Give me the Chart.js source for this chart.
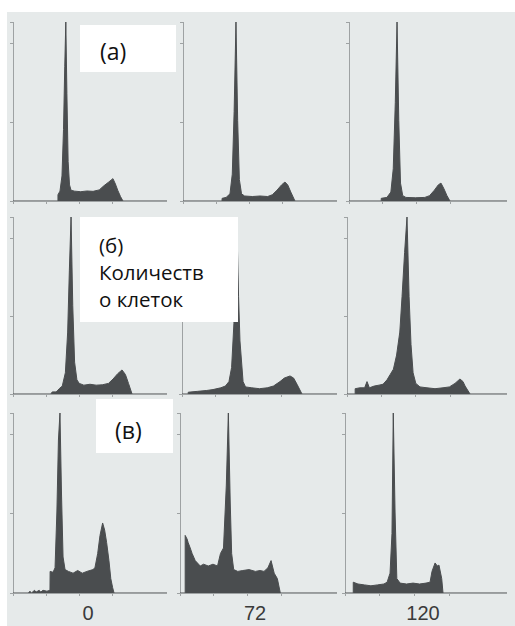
<!DOCTYPE html>
<html>
<head>
<meta charset="utf-8">
<script src="https://cdn.jsdelivr.net/npm/chart.js@4"></script>
<style>
  html, body { margin: 0; padding: 0; background: #fff; }
  body { width: 515px; height: 626px; position: relative; overflow: hidden; }
  #sheet { position: absolute; left: 7px; top: 12px; right: 0; bottom: 0; background: #e6eaea; }
  .panel { position: absolute; }
  .tag { position: absolute; background: #fff; color: #111; font-family: "Open Sans", sans-serif; z-index: 5; }
  .tag span { position: absolute; white-space: nowrap; line-height: 27px; }
  .time { position: absolute; width: 60px; margin-left: -30px; text-align: center; font-family: "Liberation Sans", Arial, sans-serif; font-size: 20px; color: #3a3a3a; }
</style>
</head>
<body>
<div id="sheet"></div>
<script>
// hours after treatment (column labels under the bottom row)
const timeLabels = ['0', '72', '120'];
// row tags
const rowTags = [['(а)'], ['(б)', 'Количеств', 'о клеток'], ['(в)']];

// DNA content channel (% of axis) and cell count (% of axis) for each panel
// row (а)
const a0Channel = [0, 28.6, 29.2, 30.5, 31.8, 32.8, 33.6, 34.3, 35.0, 35.8, 36.7, 37.7, 40, 44, 48, 52, 56, 59, 62, 64.9, 66.5, 68, 69.8, 71.4, 100];
const a0Count   = [0, 0, 3.5, 5.5, 14, 40, 75, 100, 60, 22, 9, 6, 5.5, 5.2, 5.6, 5.4, 6.2, 8.5, 10.5, 12.5, 9.5, 6, 2.5, 0, 0];
const a72Channel = [0, 25.3, 25.4, 28, 30.5, 32, 33.2, 34.4, 35.5, 36.6, 38, 40, 45, 50, 55, 58, 61, 64, 66.2, 68, 70, 72.7, 100];
const a72Count   = [0, 0, 1.5, 2, 4, 15, 50, 100, 45, 12, 4, 2.8, 2.5, 2.8, 2.5, 3.5, 6, 9, 10.6, 9, 5, 0, 0];
const a120Channel = [0, 20.3, 20.4, 24, 26.5, 28, 29.3, 30.4, 31.5, 32.6, 34, 36, 42, 48, 51, 54, 56.5, 58.2, 60, 62, 63.9, 100];
const a120Count   = [0, 0, 1.5, 2, 5, 18, 55, 100, 45, 10, 3, 2, 1.8, 2, 3, 6, 9, 10, 7, 3, 0, 0];
// row (б)
const b0Channel = [0, 24.5, 25.5, 27.5, 28.5, 30, 32, 34, 35.5, 36.6, 37.7, 38.8, 40, 41.5, 43, 46, 50, 54, 58, 62, 65, 68, 70.8, 73, 75, 77.3, 100];
const b0Count   = [0, 0, 1.2, 1.2, 1.5, 3, 4.5, 12, 35, 70, 100, 50, 18, 8, 6, 5, 5.5, 5, 5.2, 6, 8.5, 11.5, 13.6, 11, 6, 0, 0];
const b72Channel = [0, 3.9, 4, 10, 16, 20, 25, 28, 30.3, 32, 33.5, 35.3, 36.5, 37.4, 39.4, 41, 45, 50, 55, 59, 63.2, 66, 69.7, 72, 74.2, 77.4, 100];
const b72Count   = [0, 0, 1, 1.5, 2, 2.5, 3.5, 4.5, 7, 15, 40, 100, 55, 30, 7, 4, 3.5, 3, 3.5, 4.5, 7, 9, 10.2, 9, 5.5, 0, 0];
const b120Channel = [0, 5, 5.1, 8, 11, 12.5, 14, 17, 20, 22.5, 25, 27, 29, 31, 33, 34.4, 36, 37.5, 38.8, 40, 41.3, 43, 45.6, 50, 55, 60, 64, 67.5, 70.6, 72.5, 73.8, 76.9, 100];
const b120Count   = [0, 0, 3, 3.5, 3.5, 7, 3.5, 4.5, 5, 5.5, 8, 11, 14, 22, 35, 55, 80, 100, 55, 28, 12, 6, 4, 3.5, 3, 3.5, 4, 6, 8.5, 7, 4.5, 0, 0];
// row (в)
const c0Channel = [0, 10, 11, 12, 14, 15, 17, 18, 19.5, 22, 24, 24.1, 26, 27.3, 28.5, 29.5, 30.5, 31.5, 32.5, 33.8, 36, 39, 42, 45, 48, 51.9, 53.2, 55, 56.5, 58.2, 59.5, 60.8, 62.3, 63.5, 64.7, 65.6, 100];
const c0Count   = [0, 0, 1, 0, 1.5, 0.5, 1.5, 0.5, 1.5, 1, 1.5, 12, 11.5, 14, 45, 85, 100, 55, 20, 13, 12, 11, 12.5, 11, 12, 13, 14, 22, 32, 38.9, 35, 28, 18, 8, 3, 0, 0];
const c72Channel = [0, 3.2, 3.3, 4.5, 5.2, 6.5, 7.7, 9.7, 12.9, 15, 18, 21, 23.9, 25.8, 27.7, 29.5, 30.8, 32, 32.9, 34.2, 36.8, 40, 44, 48, 51, 53.5, 56, 58, 60, 62, 63.9, 100];
const c72Count   = [0, 0, 32, 30, 28, 25, 22, 18, 15, 16, 15, 16, 15, 22, 25, 60, 100, 50, 22, 13, 12, 12.5, 13, 12, 12.5, 12, 14, 18, 11, 8, 0, 0];
const c120Channel = [0, 5, 5.1, 8, 12, 16, 20, 24, 26, 27.8, 29, 29.8, 30.9, 32, 34, 38, 42, 46, 50, 52.5, 53.7, 55.6, 57, 58, 59.7, 60.5, 100];
const c120Count   = [0, 0, 6, 5, 4.5, 4, 4.5, 5, 6, 11, 33, 100, 45, 8, 5.5, 5, 5.5, 5, 5.5, 6, 12, 16.7, 15, 15.5, 8, 0, 0];

const grid = [
    [[a0Channel, a0Count], [a72Channel, a72Count], [a120Channel, a120Count]],
    [[b0Channel, b0Count], [b72Channel, b72Count], [b120Channel, b120Count]],
    [[c0Channel, c0Count], [c72Channel, c72Count], [c120Channel, c120Count]]
];

// plot areas on the page: [top, bottom] per row, [left, right] per row/column
const rowBox = [[22, 201], [217, 394], [413, 593]];
const colBox = [
    [[13, 167], [183, 337], [349, 507]],
    [[13, 167], [182, 337], [347, 507]],
    [[13, 167], [180, 337], [345, 507]]
];
const TICK = 3;
const axisColor = '#9ea2a3';
const fillColor = '#4a4d4f';

for (let r = 0; r < 3; r++) {
    for (let c = 0; c < 3; c++) {
        const [left, right] = colBox[r][c];
        const [top, bottom] = rowBox[r];
        const box = document.createElement('div');
        box.className = 'panel';
        box.style.left = (left - TICK) + 'px';
        box.style.top = top + 'px';
        box.style.width = (right - left + TICK) + 'px';
        box.style.height = (bottom - top + TICK) + 'px';
        const canvas = document.createElement('canvas');
        box.appendChild(canvas);
        document.body.appendChild(box);

        const [channel, count] = grid[r][c];
        new Chart(canvas.getContext('2d'), {
            type: 'line',
            data: {
                datasets: [{
                    data: channel.map((x, i) => ({ x: x, y: count[i] })),
                    borderColor: fillColor,
                    backgroundColor: fillColor,
                    borderWidth: 1,
                    pointRadius: 0,
                    tension: 0,
                    fill: 'origin'
                }]
            },
            options: {
                responsive: true,
                maintainAspectRatio: false,
                animation: false,
                events: [],
                layout: { padding: 0 },
                plugins: { legend: { display: false }, tooltip: { enabled: false } },
                scales: {
                    x: {
                        type: 'linear', min: 0, max: 100,
                        ticks: { display: false, stepSize: 21.5 },
                        grid: { drawOnChartArea: false, tickLength: TICK, color: axisColor },
                        border: { color: axisColor, dash: [2, 2] }
                    },
                    y: {
                        min: 0, max: 100,
                        ticks: { display: false, stepSize: 44 },
                        grid: { drawOnChartArea: false, tickLength: TICK, color: axisColor },
                        border: { color: axisColor }
                    }
                }
            }
        });
    }
}

// row tags (white boxes)
const tagBoxes = [
    { left: 80, top: 25, width: 96, height: 47, font: 23, textLeft: 20, textTop: 13 },
    { left: 80, top: 217, width: 158, height: 105, font: 20.5, textLeft: 19, textTop: 14.5 },
    { left: 96, top: 399, width: 77, height: 54, font: 23, textLeft: 19, textTop: 17.5 }
];
rowTags.forEach((lines, i) => {
    const t = tagBoxes[i];
    const d = document.createElement('div');
    d.className = 'tag';
    d.style.left = t.left + 'px';
    d.style.top = t.top + 'px';
    d.style.width = t.width + 'px';
    d.style.height = t.height + 'px';
    d.style.fontSize = t.font + 'px';
    lines.forEach((txt, k) => {
        const s = document.createElement('span');
        s.textContent = txt;
        s.style.left = t.textLeft + 'px';
        s.style.top = (t.textTop + k * 27) + 'px';
        d.appendChild(s);
    });
    document.body.appendChild(d);
});

// time labels under the bottom row
const timeX = [88, 255, 423];
timeLabels.forEach((txt, i) => {
    const d = document.createElement('div');
    d.className = 'time';
    d.textContent = txt;
    d.style.left = timeX[i] + 'px';
    d.style.top = '602px';
    document.body.appendChild(d);
});
</script>
</body>
</html>
